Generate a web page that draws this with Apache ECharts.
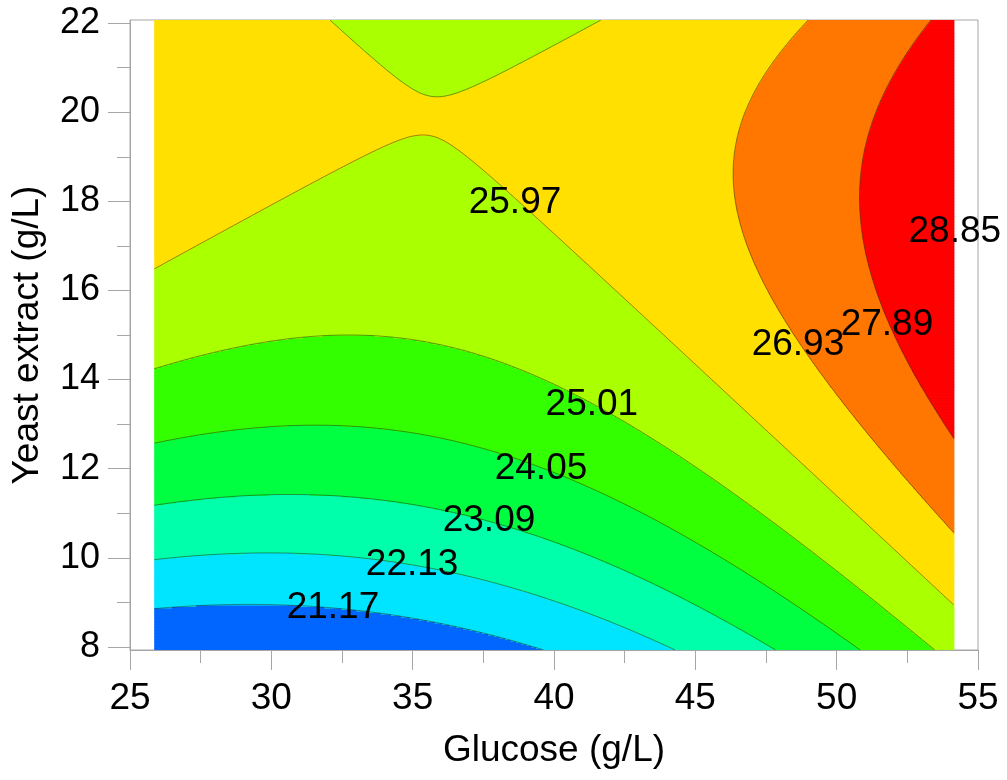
<!DOCTYPE html>
<html><head><meta charset="utf-8">
<script src="https://cdn.jsdelivr.net/npm/echarts@6/dist/echarts.min.js"></script>
<style>html,body{margin:0;padding:0;background:#fff}#c{width:1007px;height:780px}</style>
</head><body><div id="c"></div>
<script>
// ---- data ----
const xTicks = [25, 30, 35, 40, 45, 50, 55];
const yTicks = [8, 10, 12, 14, 16, 18, 20, 22];
const yMinorTicks = [9, 11, 13, 15, 17, 19, 21];
const glucoseRange = [25.86, 54.14];
const yeastRange = [7.93, 22.07];
const levels = [21.17, 22.13, 23.09, 24.05, 25.01, 25.97, 26.93, 27.89, 28.85];
const bandColors = ['#0066ff', '#00e5ff', '#00ffaa', '#00ff40', '#33ff00', '#aaff00', '#ffe000', '#ff7700', '#ff0000', '#ff0000'];
const labelTexts = ['21.17', '22.13', '23.09', '24.05', '25.01', '25.97', '26.93', '27.89', '28.85'];
const labelX = [32.18, 34.98, 37.70, 39.54, 41.34, 38.62, 48.63, 51.78, 54.18];
const labelY = [8.87, 9.84, 10.82, 11.99, 13.43, 17.96, 14.78, 15.22, 17.31];

// points on each contour line (glucose, yeast extract)
const c21_17 = [[25.81, 8.87], [29.24, 8.96], [35.26, 8.62], [36.32, 8.49], [39.75, 7.93]];
const c22_13 = [[25.81, 9.97], [30.55, 10.11], [35.26, 9.6], [39.96, 8.98], [44.35, 7.93]];
const c23_09 = [[25.81, 11.18], [30.55, 11.41], [35.26, 11.16], [36.32, 11.03], [39.96, 10.47], [43.5, 9.50], [45.16, 8.89], [47.89, 7.93]];
const c24_05 = [[25.81, 12.58], [31.47, 12.96], [35.26, 12.75], [36.32, 12.60], [38.80, 12.26], [41.17, 11.74], [45.16, 10.29], [50.82, 7.93]];
const c25_01 = [[25.81, 14.24], [32.18, 14.95], [35.26, 14.82], [36.32, 14.71], [38.80, 14.37], [41.87, 13.38], [45.16, 11.90], [45.52, 11.74], [47.64, 10.85], [53.40, 7.93]];
const c25_97 = [[25.81, 16.46], [26.52, 16.73], [32.18, 18.64], [34.09, 19.22], [35.01, 19.35], [35.89, 19.29], [37.63, 18.55], [39.04, 17.87], [40.46, 16.91], [44.70, 14.51], [45.16, 14.21], [47.64, 12.87], [49.05, 11.97], [49.34, 11.74], [54.18, 8.94],
  [31.97, 22.07], [33.38, 21.24], [35.01, 20.45], [35.89, 20.32], [36.92, 20.50], [38.80, 21.13], [41.70, 22.07]];
const c26_93 = [[48.95, 22.07], [47.53, 21.02], [46.33, 18.93], [46.9, 16.8], [49.05, 14.44], [52.24, 11.85], [54.18, 10.55]];
const c27_89 = [[53.30, 22.07], [51.78, 20.27], [50.82, 18.32], [50.93, 16.8], [52.24, 14.82], [54.18, 12.64]];
const contourPoints = [[21.17, c21_17], [22.13, c22_13], [23.09, c23_09], [24.05, c24_05], [25.01, c25_01], [25.97, c25_97], [26.93, c26_93], [27.89, c27_89]];

// ---- quadratic response surface fitted through the read contour points ----
function feats(x, y) { const X = (x - 40) / 10, Y = (y - 15) / 5; return [1, X, Y, X * X, Y * Y, X * Y]; }
function fit() {
  const n = 6, A = [], b = [];
  for (let i = 0; i < n; i++) { A.push(new Array(n).fill(0)); b.push(0); }
  contourPoints.forEach(([lv, pts]) => pts.forEach(([x, y]) => {
    const f = feats(x, y);
    for (let i = 0; i < n; i++) { b[i] += f[i] * lv; for (let j = 0; j < n; j++) A[i][j] += f[i] * f[j]; }
  }));
  for (let c = 0; c < n; c++) {
    let p = c; for (let r = c + 1; r < n; r++) if (Math.abs(A[r][c]) > Math.abs(A[p][c])) p = r;
    [A[c], A[p]] = [A[p], A[c]]; [b[c], b[p]] = [b[p], b[c]];
    for (let r = 0; r < n; r++) if (r !== c) {
      const k = A[r][c] / A[c][c];
      for (let j = c; j < n; j++) A[r][j] -= k * A[c][j];
      b[r] -= k * b[c];
    }
  }
  return b.map((v, i) => v / A[i][i]);
}
const coef = fit();
function model(x, y) { const f = feats(x, y); let s = 0; for (let i = 0; i < 6; i++) s += coef[i] * f[i]; return s; }
function bandOf(v) { let k = 0; while (k < levels.length && v >= levels[k]) k++; return k; }

// filled bands: horizontal runs of equal band per thin row
const bandRuns = [];
const nRows = 420, dx = 0.01;
for (let r = 0; r < nRows; r++) {
  const y0 = yeastRange[0] + (yeastRange[1] - yeastRange[0]) * r / nRows;
  const y1 = yeastRange[0] + (yeastRange[1] - yeastRange[0]) * (r + 1) / nRows;
  const yc = (y0 + y1) / 2;
  let xs = glucoseRange[0], cur = bandOf(model(xs, yc));
  for (let x = glucoseRange[0] + dx; x <= glucoseRange[1] + 1e-9; x += dx) {
    const bnd = bandOf(model(x, yc));
    if (bnd !== cur) { bandRuns.push([xs, x - dx / 2, y0, y1, cur]); xs = x - dx / 2; cur = bnd; }
  }
  bandRuns.push([xs, glucoseRange[1], y0, y1, cur]);
}

// contour line segments by marching squares
const segs = [];
const NX = 283, NY = 142;
const gx = [], gy = [], gv = [];
for (let i = 0; i <= NX; i++) gx.push(glucoseRange[0] + (glucoseRange[1] - glucoseRange[0]) * i / NX);
for (let j = 0; j <= NY; j++) gy.push(yeastRange[0] + (yeastRange[1] - yeastRange[0]) * j / NY);
for (let j = 0; j <= NY; j++) { gv.push([]); for (let i = 0; i <= NX; i++) gv[j].push(model(gx[i], gy[j])); }
levels.forEach(L => {
  for (let j = 0; j < NY; j++) for (let i = 0; i < NX; i++) {
    const c = [[gx[i], gy[j], gv[j][i]], [gx[i + 1], gy[j], gv[j][i + 1]], [gx[i + 1], gy[j + 1], gv[j + 1][i + 1]], [gx[i], gy[j + 1], gv[j + 1][i]]];
    const pts = [];
    for (let e = 0; e < 4; e++) {
      const a = c[e], b2 = c[(e + 1) % 4];
      if ((a[2] - L) * (b2[2] - L) < 0) {
        const t = (L - a[2]) / (b2[2] - a[2]);
        pts.push([a[0] + t * (b2[0] - a[0]), a[1] + t * (b2[1] - a[1])]);
      }
    }
    if (pts.length === 2) segs.push([pts[0][0], pts[0][1], pts[1][0], pts[1][1]]);
    else if (pts.length === 4) { segs.push([pts[0][0], pts[0][1], pts[1][0], pts[1][1]]); segs.push([pts[2][0], pts[2][1], pts[3][0], pts[3][1]]); }
  }
});

const FONT = 'Liberation Sans, Arial, Helvetica, sans-serif';
const axisGray = '#a6a6a6';
const chart = echarts.init(document.getElementById('c'), null, { renderer: 'canvas' });
chart.setOption({
  animation: false,
  backgroundColor: '#fff',
  grid: { left: 130, top: 20, width: 848, height: 630, show: true, borderColor: axisGray, borderWidth: 1, backgroundColor: '#fff', outerBoundsMode: 'none', containLabel: false },
  xAxis: {
    type: 'value', min: 25, max: 55, interval: 5,
    name: 'Glucose (g/L)', nameLocation: 'middle', nameGap: 82,
    nameTextStyle: { fontFamily: FONT, fontSize: 37, color: '#000' },
    axisLine: { show: true, lineStyle: { color: axisGray, width: 1 } },
    axisTick: { show: true, inside: false, length: 20, lineStyle: { color: axisGray } },
    minorTick: { show: true, splitNumber: 2, length: 13, lineStyle: { color: axisGray } },
    axisLabel: { fontFamily: FONT, fontSize: 37, color: '#000', margin: 30, customValues: xTicks },
    splitLine: { show: false }, minorSplitLine: { show: false }
  },
  yAxis: [{
    type: 'value', min: yeastRange[0], max: yeastRange[1],
    name: 'Yeast extract (g/L)', nameLocation: 'middle', nameGap: 84, nameRotate: 90,
    nameTextStyle: { fontFamily: FONT, fontSize: 37, color: '#000' },
    axisLine: { show: true, lineStyle: { color: axisGray, width: 1 } },
    axisTick: { show: true, inside: false, length: 22, customValues: yTicks, lineStyle: { color: axisGray } },
    axisLabel: { fontFamily: FONT, fontSize: 36, color: '#000', margin: 30, customValues: yTicks, formatter: v => String(Math.round(v)) },
    splitLine: { show: false }
  }, {
    type: 'value', min: yeastRange[0], max: yeastRange[1], position: 'left', offset: 0,
    axisLine: { show: false },
    axisTick: { show: true, inside: false, length: 13, customValues: yMinorTicks, lineStyle: { color: axisGray } },
    axisLabel: { show: false, customValues: yMinorTicks },
    splitLine: { show: false }
  }],
  series: [{
    type: 'custom', z: 1, silent: true, progressive: 0, clip: true,
    data: bandRuns,
    encode: { x: [0, 1], y: [2, 3] },
    renderItem: (params, api) => {
      const p0 = api.coord([api.value(0), api.value(3)]);
      const p1 = api.coord([api.value(1), api.value(2)]);
      return { type: 'rect', shape: { x: p0[0], y: p0[1] - 0.4, width: p1[0] - p0[0] + 0.6, height: p1[1] - p0[1] + 0.8 }, style: { fill: bandColors[api.value(4)] } };
    }
  }, {
    type: 'custom', z: 2, silent: true, progressive: 0, clip: true,
    data: segs,
    encode: { x: [0, 2], y: [1, 3] },
    renderItem: (params, api) => {
      const a = api.coord([api.value(0), api.value(1)]);
      const b = api.coord([api.value(2), api.value(3)]);
      return { type: 'line', shape: { x1: a[0], y1: a[1], x2: b[0], y2: b[1] }, style: { stroke: 'rgba(40,40,0,0.55)', lineWidth: 0.9 } };
    }
  }, {
    type: 'custom', z: 3, silent: true,
    data: labelX.map((x, i) => [x, labelY[i], i]),
    encode: { x: 0, y: 1 },
    renderItem: (params, api) => {
      const p = api.coord([api.value(0), api.value(1)]);
      return { type: 'text', x: p[0], y: p[1], style: { text: labelTexts[api.value(2)], fontFamily: FONT, fontSize: 37, fill: '#000', align: 'center', verticalAlign: 'middle' } };
    }
  }]
});
</script></body></html>
